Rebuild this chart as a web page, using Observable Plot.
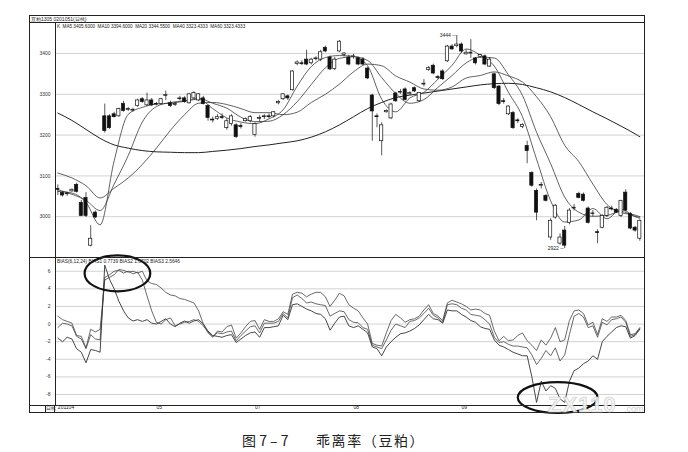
<!DOCTYPE html>
<html><head><meta charset="utf-8">
<script src="https://cdn.jsdelivr.net/npm/d3@7"></script>
<script src="https://cdn.jsdelivr.net/npm/@observablehq/plot@0.6"></script>
<style>
body{margin:0;background:#fff;}
#wrap{position:relative;width:688px;height:452px;overflow:hidden;font-family:"Liberation Sans","DejaVu Sans",sans-serif;color:#222;}
.abs{position:absolute;white-space:pre;}
.hl{position:absolute;left:29px;width:616px;height:0;border-top:1px solid #222;}
svg{overflow:visible;}
</style></head><body><div id="wrap"></div>
<script>
// ---------- data ----------
const open = [3068,3058,3055,3062,3078,3034,3046,2929,3010,null,
3246,3246,3251,3246,3276,3262,3260,3271,3288,3273,
3285,3276,3276,3296,3278,3274,3288,3290,3278,3290,
3285,3290,3271,3238,3240,3244,3217,3227,3224,3222,
3234,3234,3200,3240,3244,3246,3246,3278,3288,3295,
3310,3374,3376,3385,3376,3386,3385,3414,3390,3362,
3405,3396,3390,3392,3388,3385,3363,3297,3246,3185,
3256,3241,3302,3304,3312,3300,3315,3283,3324,3360,
3370,3342,3356,3381,3417,3418,3422,3398,3400,3388,
3392,3393,3368,3349,3319,3283,3251,3254,3236,3220,
3173,3107,3063,3076,3051,2949,2998,2934,2966,2985,
3020,3056,3054,3020,3008,2962,2973,3002,3020,3017,
3002,3059,3007,2973,2946];
const high = [3078,3062,3060,3068,3082,3040,3059,2978,3014,null,
3276,3250,3256,3266,3283,3268,3266,3288,3292,3303,
3290,3280,3290,3308,3283,3280,3295,3294,3302,3306,
3302,3295,3274,3244,3250,3252,3240,3250,3228,3228,
3242,3248,3230,3248,3250,3252,3258,3285,3302,3298,
3358,3382,3382,3408,3388,3392,3408,3418,3394,3390,
3432,3402,3396,3398,3392,3390,3366,3300,3252,3230,
3262,3278,3305,3312,3316,3306,3318,3304,3336,3368,
3374,3346,3360,3420,3422,3444,3426,3408,3434,3390,
3398,3396,3390,3352,3322,3290,3272,3258,3240,3228,
3185,3110,3068,3084,3054,2995,3030,2958,2976,3020,
3030,3060,3058,3024,3015,2968,3005,3025,3026,3020,
3040,3066,3010,2976,2992];
const low = [3052,3048,3050,3060,3058,3000,2998,2926,2996,null,
3205,3214,3242,3244,3256,3258,3256,3268,3278,3270,
3270,3272,3274,3285,3268,3270,3284,3278,3276,3288,
3282,3274,3234,3230,3236,3238,3212,3222,3192,3215,
3232,3230,3195,3232,3238,3240,3242,3274,3285,3285,
3308,3370,3370,3370,3372,3382,3380,3402,3358,3358,
3402,3392,3370,3386,3370,3370,3336,3185,3218,3149,
3254,3238,3280,3300,3284,3298,3304,3280,3318,3356,
3348,3336,3334,3378,3408,3414,3400,3396,3388,3372,
3388,3370,3366,3312,3272,3276,3248,3214,3228,3216,
3130,3072,2990,3068,3036,2942,2994,2930,2922,2980,
3014,3044,3036,2982,3000,2934,2970,2998,3014,3008,
2998,3012,2968,2962,2940];
const close = [3066,3052,3057,3066,3061,3002,3002,2946,2998,null,
3210,3217,3244,3264,3259,3264,3262,3285,3281,3285,
3273,3275,3288,3298,3271,3276,3290,3281,3300,3303,
3300,3276,3242,3236,3244,3242,3234,3246,3195,3220,
3239,3244,3227,3242,3246,3244,3256,3281,3300,3290,
3356,3378,3374,3373,3385,3388,3403,3405,3361,3385,
3429,3400,3373,3393,3373,3373,3339,3258,3244,3224,
3259,3275,3283,3306,3286,3303,3307,3303,3326,3364,
3351,3340,3337,3417,3410,3422,3405,3402,3402,3376,
3396,3373,3385,3315,3276,3281,3270,3217,3234,3225,
3161,3076,3010,3078,3039,2990,3027,2949,2929,3015,
3022,3046,3039,2985,3007,2960,3002,3022,3018,3010,
3039,3015,2971,2966,2990];

// moving averages, read at every third bar
const maIdx = [0,3,6,9,12,15,18,21,24,27,30,33,36,39,42,45,48,51,54,57,60,63,66,69,72,75,78,81,84,87,90,93,96,99,102,105,108,111,114,117,120,123,124];
const ma5 = [3062,3058,3035,2980,3137,3251,3268,3276,3278,3283,3288,3265,3242,3232,3228,3240,3262,3320,3368,3390,3395,3393,3370,3288,3257,3291,3305,3337,3371,3411,3396,3369,3305,3245,3141,3039,2987,2992,3020,2995,3018,3000,2996];
const ma10 = [3066,3055,3040,3015,3080,3150,3232,3270,3280,3284,3290,3278,3266,3244,3233,3234,3250,3282,3324,3365,3388,3392,3383,3341,3302,3278,3287,3317,3346,3377,3391,3389,3348,3297,3207,3130,3048,3011,3001,3003,3013,3001,2999];
const ma20 = [3107,3095,3076,3046,3070,3095,3128,3168,3212,3250,3278,3280,3275,3265,3255,3255,3250,3256,3280,3300,3325,3355,3374,3370,3345,3330,3313,3310,3318,3340,3346,3355,3345,3330,3294,3245,3175,3135,3080,3030,3010,3004,3000];
const ma60 = [3254,3236,3214,3192,3176,3168,3162,3159,3158,3157,3157,3160,3163,3167,3172,3176,3181,3186,3195,3208,3225,3245,3265,3280,3292,3298,3303,3308,3313,3318,3323,3326,3327,3324,3316,3306,3292,3275,3257,3240,3222,3203,3196];

// BIAS lines
const bias1 = [0.9,0.5,0.3,0.1,-1.3,-1.4,-2.7,-0.6,-0.9,-0.6,
5.0,5.3,5.6,6.2,6.1,5.9,6.0,5.8,6.0,4.9,4.6,4.5,4.1,3.6,3.3,3.2,2.9,2.8,2.6,2.4,1.5,0.0,-1.0,-1.5,
-0.8,-0.9,-0.3,-0.1,-1.6,-1.0,-0.3,0.3,0.4,-0.6,
0.5,0.3,0.3,0.6,1.4,1.1,3.4,3.6,3.5,3.1,
3.4,3.6,3.6,3.1,2.0,2.7,3.5,3.2,2.2,1.8,
1.5,0.7,0.0,-2.2,-2.4,-2.5,-1.0,0.4,1.1,0.7,
0.2,0.5,0.6,0.9,1.6,2.2,1.2,0.9,0.4,2.4,
2.7,2.5,2.3,2.0,1.6,1.7,1.6,1.2,1.0,-0.8,
-1.9,-1.4,-1.9,-1.8,-1.3,-1.0,
-1.9,-2.4,-3.0,-1.8,-2.4,-1.6,-0.4,-2.0,-1.8,0.4,1.5,1.6,1.2,-0.1,0.2,-1.2,0.6,0.3,0.8,0.8,1.0,0.4,-1.2,-1.1,-0.4];
const bias2 = [-0.4,0.1,0.0,-0.2,-1.4,-1.7,-2.8,-1.2,-1.7,-1.8,
5.3,5.6,6.0,6.1,5.8,6.0,5.7,5.9,5.0,3.2,1.5,0.2,0.0,0.5,0.7,-0.2,0.0,0.2,0.3,0.5,0.3,-0.2,-0.9,-1.4,
-1.0,-1.1,-0.9,-0.8,-1.9,-1.3,-0.8,-0.3,-0.2,-1.0,
0.1,0.1,0.1,0.3,1.2,0.7,3.0,3.3,2.9,2.4,
2.5,2.3,2.2,2.1,0.9,1.2,1.5,1.4,0.5,0.2,
0.15,-0.4,-0.6,-2.4,-2.6,-2.8,-1.8,-0.7,0.0,-0.2,
-0.4,0.3,0.4,0.7,1.2,1.8,1.0,0.7,0.2,2.2,
2.3,2.2,1.8,1.6,1.1,1.0,0.9,0.5,0.0,-1.5,
-2.1,-2.0,-2.3,-2.5,-2.5,-2.6,
-2.7,-3.5,-4.6,-3.9,-3.0,-3.6,-2.7,-4.2,-3.5,-1.2,0.9,1.2,0.8,-0.4,-0.2,-1.5,0.2,-0.1,0.5,0.6,0.8,0.2,-1.4,-1.2,-0.5];
const bias3 = [-1.6,-2.0,-1.5,-1.7,-2.8,-3.2,-4.4,-2.9,-3.0,-3.2,
6.7,5.1,4.0,2.6,1.5,0.7,0.35,0.5,0.3,0.5,0.1,0.0,0.3,0.6,0.0,-0.3,0.1,0.35,0.1,0.35,0.5,0.0,-0.8,-1.3,
-1.4,-1.5,-1.3,-1.2,-2.1,-1.7,-1.3,-1.0,-0.9,-1.5,
-0.4,-0.4,-0.3,-0.2,1.0,0.5,2.2,2.3,2.0,1.7,
1.5,1.2,1.1,0.6,-0.7,0.1,0.8,0.9,-0.2,-0.4,
-0.2,-0.6,-1.0,-2.6,-2.8,-3.6,-2.6,-2.0,-1.5,-1.1,
-1.0,-0.8,-0.5,-0.1,0.5,1.1,0.6,0.5,0.1,1.6,
1.5,1.5,1.1,0.8,0.4,0.2,-0.3,-0.5,-0.6,-1.8,
-2.4,-2.6,-2.9,-3.2,-3.4,-3.6,
-3.6,-6.0,-8.9,-6.5,-7.6,-7.0,-7.3,-8.5,-8.9,-6.5,-5.3,-5.0,-4.5,-4.2,-3.6,-4.0,-2.0,-1.4,-0.9,-0.4,-0.2,-0.3,-1.6,-1.3,-0.6];

const priceTicks = [3000,3100,3200,3300,3400];
const biasTicks = [-8,-6,-4,-2,0,2,4,6];
const monthIdx = [0,21,42,63,86];
const monthLabel = ["201104","05","07","08","09"];
const markIdx = [85,108];
const markVal = [3444,2922];
// hand-drawn ellipses on the BIAS panel (centre bar, centre value, radius in bars, radius in value)
const ellIdx = [12.8,106.6];
const ellVal = [5.7,-8.4];
const ellRx = [7.0,8.5];
const ellRy = [2.05,1.75];

const titleText = "豆粕1305 0201051(日线)";
const maText = "K  MA5 3405.6000  MA10 3394.6000  MA20 3344.5500  MA40 3323.4333  MA60 3323.4333";
const biasText = "BIAS(6,12,24) BIAS1 0.7739 BIAS2 1.6702 BIAS3 2.5646";
const captionA = "图 7 – 7";
const captionB = "乖离率（豆粕）";

// ---------- build ----------
const nBars = close.length;
const candles = d3.range(nBars).filter(i => close[i] != null)
  .map(i => ({i, o: open[i], h: high[i], l: low[i], c: close[i]}));
const bars = d3.range(nBars);
const wrap = document.getElementById("wrap");

function add(html, css) {
  const d = document.createElement("div");
  d.className = "abs"; d.textContent = html;
  Object.assign(d.style, css); wrap.appendChild(d); return d;
}
function hline(top) {
  const d = document.createElement("div"); d.className = "hl"; d.style.top = top + "px"; wrap.appendChild(d);
}

const baseStyle = {fontSize: "5px", fontFamily: "Liberation Sans, DejaVu Sans, sans-serif", background: "transparent", color: "#333", overflow: "visible"};
const xDom = [-0.5, 125];
const maLine = (vals, w, c) => Plot.line(maIdx, {x: d => d, y: (d, j) => vals[j], curve: "monotone-x", stroke: c, strokeWidth: w});

const plot1 = Plot.plot({
  width: 616, height: 235,
  marginLeft: 26, marginRight: 1, marginTop: 0, marginBottom: 0,
  style: baseStyle,
  x: {domain: xDom, axis: null},
  y: {domain: [2900, 3476], ticks: priceTicks, tickSize: 0, tickPadding: 5, tickFormat: d => String(d), label: null},
  marks: [
    Plot.ruleY(priceTicks, {stroke: "#c6c6c6", strokeWidth: 0.8}),
    Plot.frame({stroke: "#222"}),
    maLine(ma60, 1.0, "#222"),
    maLine(ma20, 0.8, "#3a3a3a"),
    maLine(ma10, 0.8, "#3a3a3a"),
    maLine(ma5, 0.8, "#3a3a3a"),
    Plot.ruleX(candles, {x: "i", y1: "l", y2: "h", stroke: "#111", strokeWidth: 0.7}),
    Plot.rect(candles, {x1: d => d.i - 0.34, x2: d => d.i + 0.34, y1: "o", y2: "c",
      fill: d => d.c >= d.o ? "#fff" : "#111", stroke: "#111", strokeWidth: 0.7}),
    Plot.text(markIdx, {x: d => d, y: (d, j) => markVal[j], text: (d, j) => markVal[j] + " ─",
      textAnchor: "end", dx: -1, fontSize: 5, fill: "#222"})
  ]
});

const plot2 = Plot.plot({
  width: 616, height: 155,
  marginLeft: 26, marginRight: 1, marginTop: 0, marginBottom: 7,
  style: baseStyle,
  x: {domain: xDom, axis: null},
  y: {domain: [-9.25, 7.56], ticks: biasTicks, tickSize: 0, tickPadding: 5, tickFormat: d => String(d), label: null},
  marks: [
    Plot.ruleY(biasTicks, {stroke: "#c6c6c6", strokeWidth: 0.8}),
    Plot.frame({stroke: "#222"}),
    Plot.line(bars, {x: d => d, y: d => bias1[d], stroke: "#444", strokeWidth: 0.8}),
    Plot.line(bars, {x: d => d, y: d => bias2[d], stroke: "#444", strokeWidth: 0.8}),
    Plot.line(bars, {x: d => d, y: d => bias3[d], stroke: "#333", strokeWidth: 0.9}),
    Plot.text(monthIdx, {x: d => d, text: (d, j) => monthLabel[j], frameAnchor: "bottom", dy: 3.6,
      textAnchor: "start", fontSize: 5, fill: "#222"})
  ]
});

// place
const p1 = document.createElement("div"); Object.assign(p1.style, {position: "absolute", left: "29px", top: "22px"}); p1.appendChild(plot1); wrap.appendChild(p1);
const p2 = document.createElement("div"); Object.assign(p2.style, {position: "absolute", left: "29px", top: "257px"}); p2.appendChild(plot2); wrap.appendChild(p2);

// ellipses from data via scales
const sx = plot2.scale("x"), sy = plot2.scale("y");
const svg2 = d3.select(plot2.tagName.toLowerCase() === "svg" ? plot2 : plot2.querySelector("svg"));
ellIdx.forEach((c, k) => {
  const cx = sx.apply(c), cy = sy.apply(ellVal[k]);
  svg2.append("ellipse")
    .attr("cx", cx).attr("cy", cy)
    .attr("rx", Math.abs(sx.apply(c + ellRx[k]) - cx))
    .attr("ry", Math.abs(sy.apply(ellVal[k] + ellRy[k]) - cy))
    .attr("fill", "none").attr("stroke", "#111").attr("stroke-width", 2.2);
});

// frame & rules
const outer = document.createElement("div");
Object.assign(outer.style, {position: "absolute", left: "29px", top: "15px", width: "616px", height: "398px", border: "1px solid #222", boxSizing: "border-box", pointerEvents: "none"});
wrap.appendChild(outer);
hline(22); hline(257); hline(405);

add(titleText, {left: "31px", top: "16px", fontSize: "5px", lineHeight: "6px"});
add(maText, {left: "57px", top: "24px", fontSize: "4.6px", lineHeight: "5px"});
add(biasText, {left: "57px", top: "258.5px", fontSize: "4.8px", lineHeight: "5px"});
add("日线", {left: "45px", top: "405px", width: "10px", height: "7px", fontSize: "5px", lineHeight: "7px", borderLeft: "1px solid #222", borderRight: "1px solid #222", boxSizing: "border-box", textAlign: "center"});

// watermark
add("ZX110", {left: "548px", top: "394px", fontSize: "22px", fontWeight: "bold", lineHeight: "22px", color: "rgba(245,245,245,0.92)", webkitTextStroke: "0.6px #c8c8c8", letterSpacing: "1px"});
add(".com", {left: "624px", top: "404px", fontSize: "9px", lineHeight: "10px", color: "#d0d0d0"});

// caption
const capFont = {fontFamily: "'Noto Sans CJK SC', sans-serif", fontSize: "14px", lineHeight: "16px", color: "#222"};
add(captionA, Object.assign({left: "242px", top: "432px"}, capFont));
add(captionB, Object.assign({left: "316px", top: "432px", letterSpacing: "1.6px"}, capFont));
</script></body></html>
